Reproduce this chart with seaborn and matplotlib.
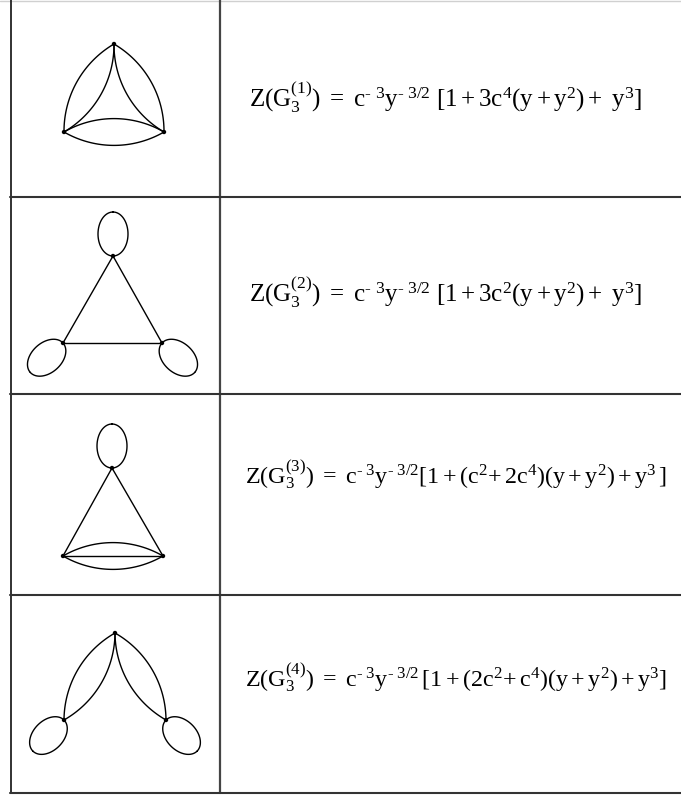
import numpy as np
import pandas as pd
import matplotlib
matplotlib.use("Agg")
import matplotlib.pyplot as plt
import seaborn as sns

# partition functions of the four 3-vertex graphs
formulas = [
    r"$\mathregular{Z(G_3^{(1)})\ =\ c^{\text{- 3}}y^{\text{- 3/2}}\ [1 + 3c^4(y + y^2) +\ y^3]}$",
    r"$\mathregular{Z(G_3^{(2)})\ =\ c^{\text{- 3}}y^{\text{- 3/2}}\ [1 + 3c^2(y + y^2) +\ y^3]}$",
    r"$\mathregular{Z(G_3^{(3)})\ =\ c^{\text{- 3}}y^{\text{- 3/2}}[1 + (c^2\!+ 2c^4)(y + y^2) + y^3\,]}$",
    r"$\mathregular{Z(G_3^{(4)})\ =\ c^{\text{- 3}}y^{\text{- 3/2}}\,[1 + (2c^2\!+ c^4)(y + y^2) + y^3]}$",
]

# edges: (from, to, kind)  kind: 0 straight, 1 outer arc, -1 inner arc
edges = [
    [("T", "L", 1), ("T", "L", -1), ("T", "R", 1), ("T", "R", -1), ("L", "R", 1), ("L", "R", -1)],
    [("T", "L", 0), ("T", "R", 0), ("L", "R", 0)],
    [("T", "L", 0), ("T", "R", 0), ("L", "R", 0), ("L", "R", 1), ("L", "R", -1)],
    [("T", "L", 1), ("T", "L", -1), ("T", "R", 1), ("T", "R", -1)],
]
# self-loops: vertex it hangs from and its direction in degrees (screen, y down)
loops = [
    [],
    [("T", -90), ("L", 138), ("R", 42)],
    [("T", -90)],
    [("L", 135), ("R", 45)],
]

# vertex layout of each diagram (pixel coords)
layouts = [
    {"T": (114, 44), "L": (64, 132), "R": (164, 132)},
    {"T": (113, 256), "L": (63, 343), "R": (162, 343)},
    {"T": (112, 468), "L": (63, 556), "R": (163, 556)},
    {"T": (115, 633), "L": (64, 720), "R": (166, 720)},
]
text_pos = [(249, 107), (249, 302), (245, 483), (245, 686)]
text_size = [18, 18, 17.3, 17.3]
row_lines = [197, 393.5, 595, 793]


def arc_points(p, q, sign, centroid, n=60):
    p, q = np.array(p, float), np.array(q, float)
    d = np.linalg.norm(q - p)
    t = (q - p) / d
    nrm = np.array([-t[1], t[0]])
    m = (p + q) / 2
    if np.dot(m - centroid, nrm) < 0:
        nrm = -nrm
    nrm = nrm * sign
    r = d
    h = np.sqrt(r ** 2 - (d / 2) ** 2)
    c = m - nrm * h
    a = np.arcsin(d / (2 * r))
    th = np.linspace(-a, a, n)
    return c[None, :] + r * (np.cos(th)[:, None] * nrm + np.sin(th)[:, None] * t)


def loop_points(v, ang, a=15, b=22, n=80):
    v = np.array(v, float)
    u = np.array([np.cos(np.radians(ang)), np.sin(np.radians(ang))])
    w = np.array([-u[1], u[0]])
    c = v + b * u
    th = np.linspace(0, 2 * np.pi, n)
    return c[None, :] + b * np.cos(th)[:, None] * u + a * np.sin(th)[:, None] * w


rows = []
cid = 0
for lay, eds, lps in zip(layouts, edges, loops):
    cen = np.mean(list(lay.values()), axis=0)
    for a_, b_, k in eds:
        if k == 0:
            pts = np.array([lay[a_], lay[b_]], float)
        else:
            pts = arc_points(lay[a_], lay[b_], k, cen)
        rows.append(pd.DataFrame({"x": pts[:, 0], "y": pts[:, 1], "curve": cid}))
        cid += 1
    for v, ang in lps:
        pts = loop_points(lay[v], ang)
        rows.append(pd.DataFrame({"x": pts[:, 0], "y": pts[:, 1], "curve": cid}))
        cid += 1
curves = pd.concat(rows, ignore_index=True)
verts = pd.DataFrame([p for lay in layouts for p in lay.values()], columns=["x", "y"])

sns.set_theme(style="white")
plt.rcParams["font.family"] = "Liberation Serif"
plt.rcParams["mathtext.fontset"] = "custom"
plt.rcParams["mathtext.rm"] = "Liberation Serif"
plt.rcParams["mathtext.it"] = "Liberation Serif:italic"

fig = plt.figure(figsize=(6.81, 7.97), dpi=100)
ax = fig.add_axes([0, 0, 1, 1])

# table grid
ax.plot([0, 681], [0.5, 0.5], color="#d0d0d0", lw=1)
ax.plot([10.5, 10.5], [0, 793], color="#222222", lw=1.3)
ax.plot([219.5, 219.5], [0, 793], color="#444444", lw=1.6)
for y in row_lines:
    ax.plot([10, 681], [y, y], color="#333333", lw=1.5)

sns.lineplot(data=curves, x="x", y="y", units="curve", estimator=None,
             sort=False, color="black", lw=1.0, ax=ax, legend=False)
sns.scatterplot(data=verts, x="x", y="y", color="black", s=10, ax=ax,
                edgecolor="none", legend=False)
ax.set_xlim(0, 681)
ax.set_ylim(797, 0)
ax.axis("off")

for f, (x, y), fs in zip(formulas, text_pos, text_size):
    ax.text(x, y, f, fontsize=fs, va="baseline", ha="left", color="black")

fig.savefig("out.png", dpi=100)
